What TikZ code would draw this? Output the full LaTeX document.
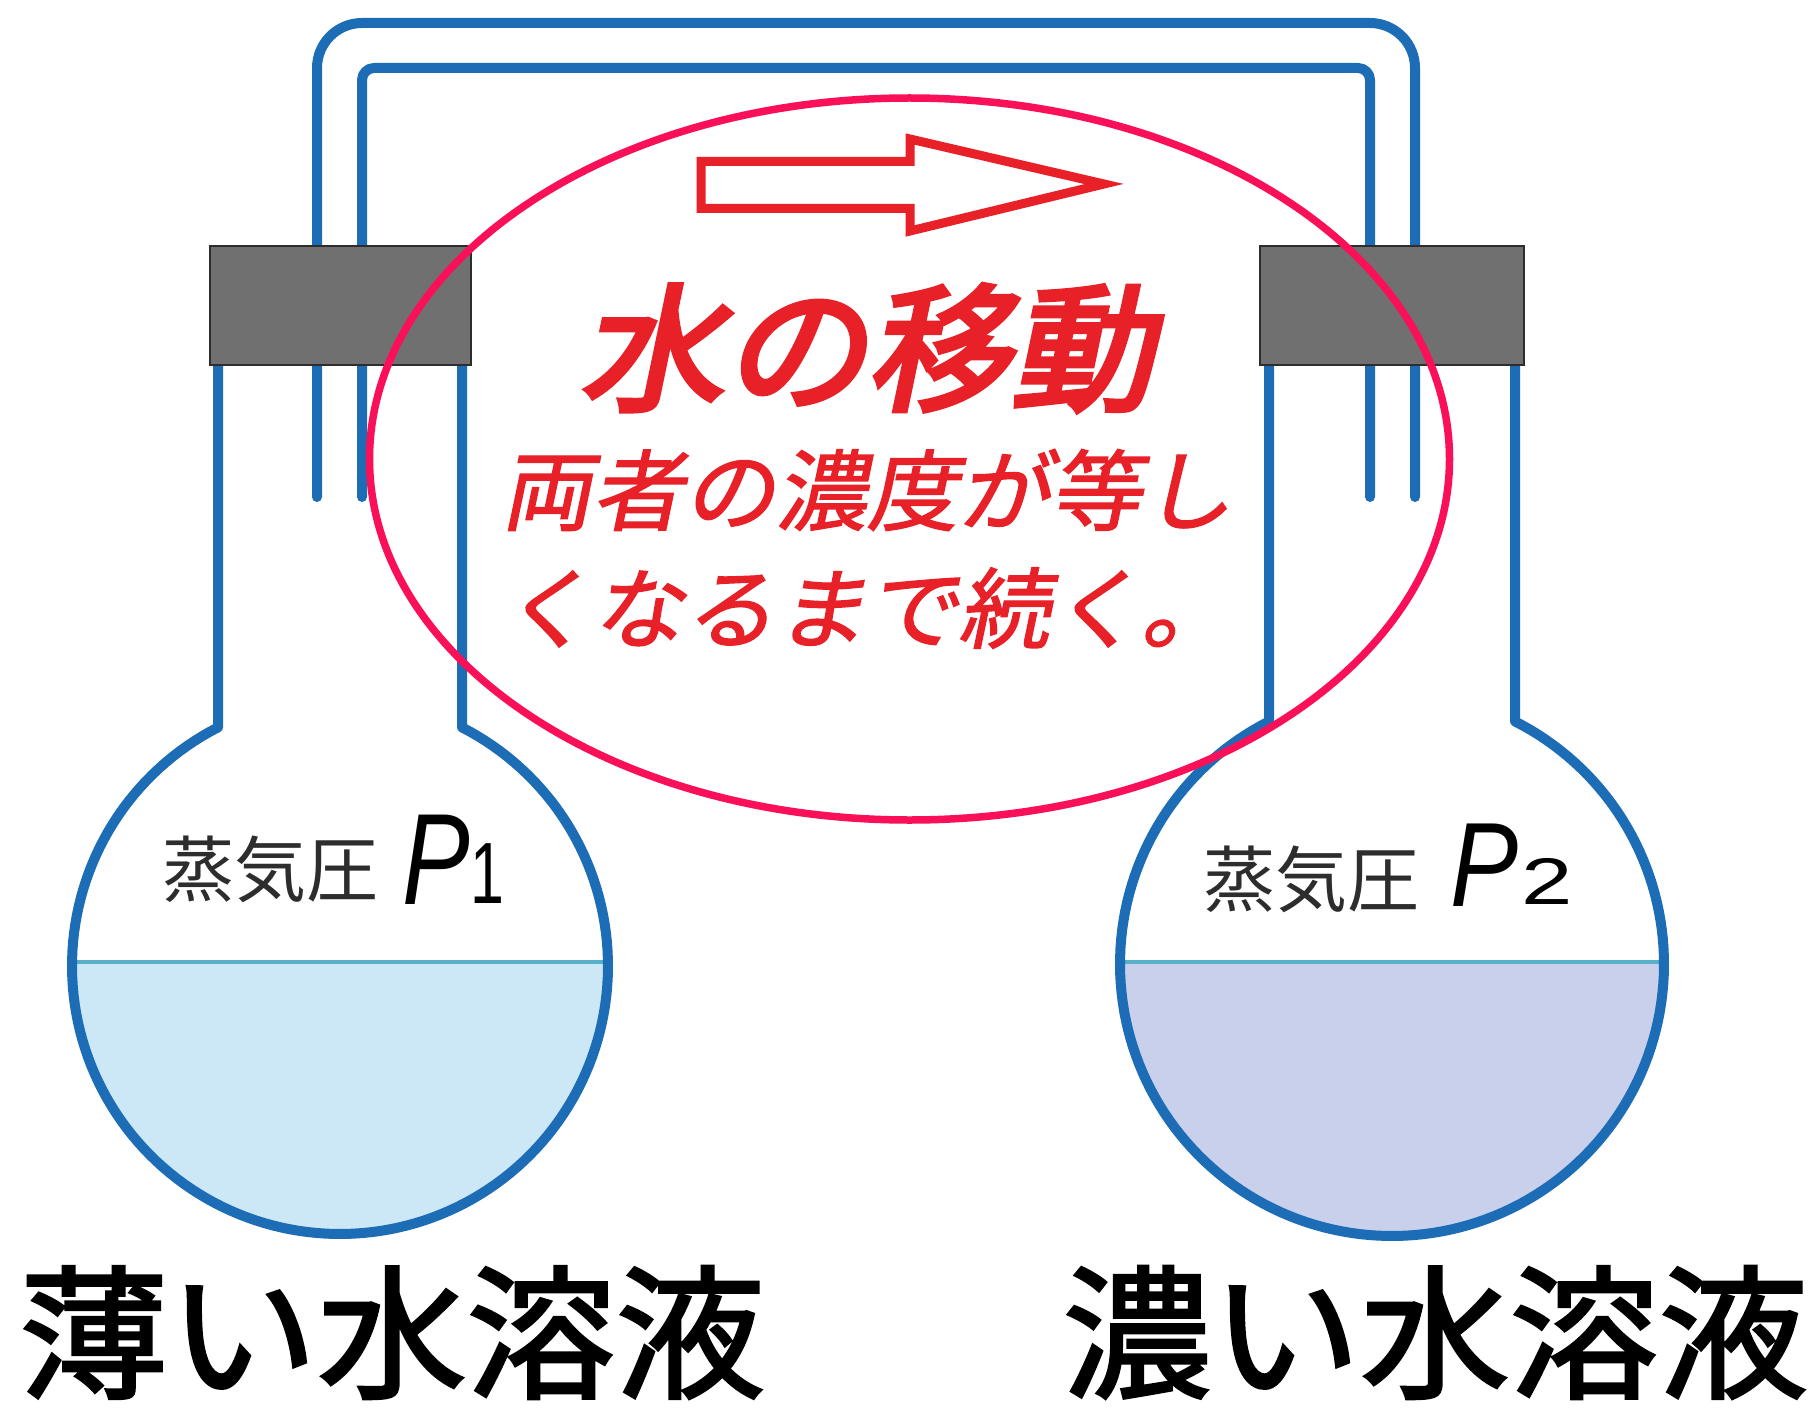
\documentclass[tikz,border=0pt]{standalone}
\usepackage{fontspec}
\newfontfamily\jpfont{Noto Sans CJK JP}
\newfontfamily\jpheavy{Noto Sans CJK JP}[FakeBold=2]
\newfontfamily\jpslant{Noto Sans CJK JP}[FakeSlant=0.2,FakeBold=1.5]
\newfontfamily\jpslantheavy{Noto Sans CJK JP}[FakeSlant=0.2,FakeBold=3.5]
\newfontfamily\pfont{Liberation Sans}
\definecolor{tubeblue}{RGB}{28,108,182}
\definecolor{stopgray}{RGB}{112,112,112}
\definecolor{stopedge}{RGB}{45,45,45}
\definecolor{thinsol}{RGB}{204,232,246}
\definecolor{thicksol}{RGB}{200,208,236}
\definecolor{surfline}{RGB}{88,175,200}
\definecolor{ringred}{RGB}{250,16,88}
\definecolor{msgred}{RGB}{232,32,40}
\definecolor{labelgray}{RGB}{45,45,45}
\begin{document}
\begin{tikzpicture}[x=1pt,y=-1pt,
  glass/.style={draw=tubeblue,line width=10pt,line cap=round,line join=round},
  surface/.style={draw=surfline,line width=3.5pt},
  stopper/.style={draw=stopedge,line width=1.5pt,fill=stopgray,inner sep=0pt,minimum height=119pt},
  txt/.style={inner sep=0pt,anchor=center},
  redline/.style={inner sep=0pt,anchor=west,text=msgred,xscale=1.04,
    font=\jpslant\fontsize{88}{96}\selectfont},
  vapour/.style={txt,text=labelgray,font=\jpfont\fontsize{72}{80}\selectfont},
  solution/.style={txt,text=black,xscale=1.035,font=\jpheavy\fontsize{144}{150}\selectfont},
]
\useasboundingbox (0,0) rectangle (1818,1415);
\fill[white] (0,0) rectangle (1818,1415);

% liquid in the two flasks
\begin{scope}
  \clip (340,966) circle[radius=268pt];
  \fill[thinsol] (0,962) rectangle (700,1300);
  \draw[surface] (0,962) -- (700,962);
\end{scope}
\begin{scope}
  \clip (1392,964) circle[radius=272pt];
  \fill[thicksol] (1100,962) rectangle (1700,1300);
  \draw[surface] (1100,962) -- (1700,962);
\end{scope}

% flask outlines: neck and round bulb
\draw[glass] (218,365) -- (218,727.4)
  -- plot[domain=242.9:-62.9,samples=160] ({340+268*cos(\x)},{966+268*sin(\x)})
  -- (462,365);
\draw[glass] (1269,365) -- (1269,721.4)
  -- plot[domain=243.1:-63.1,samples=160] ({1392+272*cos(\x)},{964+272*sin(\x)})
  -- (1515,365);

% connecting tubes
\draw[glass,rounded corners=45pt] (317,497) -- (317,23) -- (1415,23) -- (1415,497);
\draw[glass,rounded corners=12pt] (362,497) -- (362,68) -- (1370,68) -- (1370,497);

% stoppers
\node[stopper,minimum width=261pt] (stopperL) at (340.5,305.5) {};
\node[stopper,minimum width=264pt] (stopperR) at (1392,305.5) {};

% vapour pressure labels
\node[vapour] (vapL) at (270.5,869.5) {蒸気圧};
\node[txt,font=\pfont\itshape\fontsize{130}{140}\selectfont,xscale=0.78] (PL) at (436,859.5) {P};
\node[txt,font=\pfont\fontsize{87}{90}\selectfont,xscale=0.7] (subL) at (487.5,874) {1};
\node[vapour] (vapR) at (1311.5,879.5) {蒸気圧};
\node[txt,font=\pfont\itshape\fontsize{120}{130}\selectfont,xscale=0.85] (PR) at (1484.5,865) {P};
\node[txt,font=\pfont\fontsize{66}{70}\selectfont,xscale=1.4] (subR) at (1547.5,881.5) {2};

% solution names
\node[solution] (thinL) at (392,1332.5) {薄い水溶液};
\node[solution] (thickR) at (1435,1332.5) {濃い水溶液};

% highlight ring
\draw[ringred,line width=7.5pt] (909.5,459) ellipse[x radius=540pt,y radius=361pt];

% block arrow showing the direction of water transfer
\draw[msgred,line width=9pt,line join=miter]
  (701,161.5) -- (910,161.5) -- (910,139) -- (1104,184) -- (910,231) -- (910,208.5) -- (701,208.5) -- cycle;

% message
\node[txt,text=msgred,xscale=1.04,font=\jpslantheavy\fontsize{138}{146}\selectfont] (move) at (866.5,348) {水の移動};
\node[redline] (line1) at (500,490) {両者の濃度が等し};
\node[redline] (line2) at (500,608) {くなるまで続く。};
\end{tikzpicture}
\end{document}
